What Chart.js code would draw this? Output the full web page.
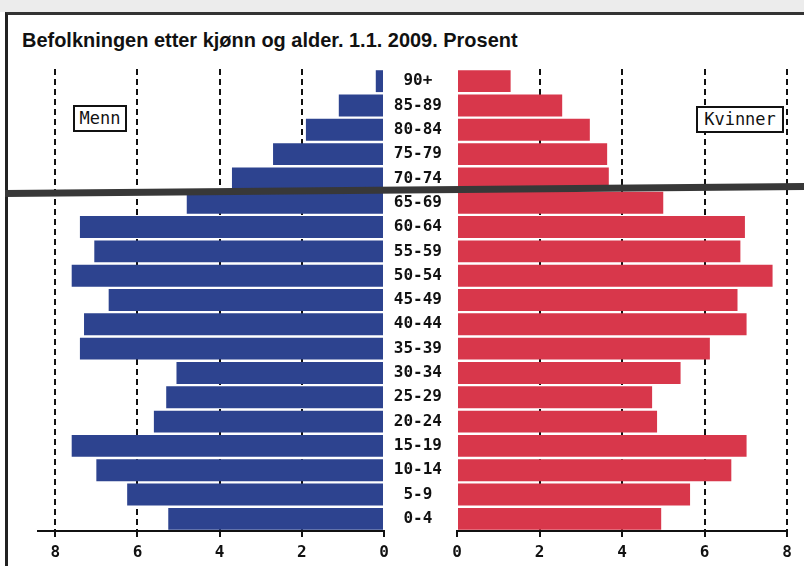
<!DOCTYPE html>
<html>
<head>
<meta charset="utf-8">
<script src="https://cdn.jsdelivr.net/npm/chart.js@4/dist/chart.umd.min.js"></script>
<style>
  html, body { margin: 0; padding: 0; background: #fff; }
  body { width: 804px; height: 566px; position: relative; overflow: hidden; }
  #topband { position: absolute; left: 0; top: 0; width: 804px; height: 12px; background: #ececec; }
  #frame { position: absolute; left: 5px; top: 12px; width: 799px; height: 554px;
           border-top: 3px solid #333; border-left: 3px solid #222; box-sizing: border-box; }
  #title { position: absolute; left: 22px; top: 28px; font-family: "Liberation Sans", Arial, sans-serif;
           font-weight: bold; font-size: 21px; line-height: 24px; color: #111; white-space: nowrap;
           transform: scaleX(0.95); transform-origin: 0 0; }
  .cv { position: absolute; top: 0; height: 566px; }
  #leftWrap { left: 0; width: 390px; }
  #rightWrap { left: 390px; width: 414px; }
  .legend { position: absolute; border: 2px solid #111; font-family: "DejaVu Sans Mono", monospace;
            font-size: 17px; color: #111; box-sizing: border-box; text-align: center; line-height: 22px; background: #fff; }
  #menn { left: 73px; top: 105px; width: 54px; height: 27px; }
  #kvinner { left: 696px; top: 106px; width: 88px; height: 27px; }
  #fold { position: absolute; left: 5px; top: 190px; width: 802px; height: 7px; background: #383838;
          transform: rotate(-0.5deg); transform-origin: 0 50%; }
</style>
</head>
<body>
<div id="topband"></div>
<div id="frame"></div>
<div id="title">Befolkningen etter kjønn og alder. 1.1. 2009. Prosent</div>
<div class="cv" id="leftWrap"><canvas id="cLeft" width="390" height="566"></canvas></div>
<div class="cv" id="rightWrap"><canvas id="cRight" width="414" height="566"></canvas></div>
<div class="legend" id="menn">Menn</div>
<div class="legend" id="kvinner">Kvinner</div>
<div id="fold"></div>
<script>
// Age groups, from youngest (bottom) to oldest (top)
const ageGroups = ['0-4','5-9','10-14','15-19','20-24','25-29','30-34','35-39','40-44','45-49',
                   '50-54','55-59','60-64','65-69','70-74','75-79','80-84','85-89','90+'];
// Percent of population, men
const menn = [5.25, 6.25, 7.0, 7.6, 5.6, 5.3, 5.05, 7.4, 7.3, 6.7,
              7.6, 7.05, 7.4, 4.8, 3.7, 2.7, 1.9, 1.1, 0.2];
// Percent of population, women
const kvinner = [4.95, 5.65, 6.65, 7.02, 4.85, 4.73, 5.42, 6.13, 7.02, 6.8,
                 7.65, 6.87, 6.98, 5.0, 3.68, 3.64, 3.22, 2.55, 1.3];
// Axis tick values
const tickValues = [0, 2, 4, 6, 8];

const BLUE = '#2d438f';
const RED = '#d8374b';
const tickFont = { family: '"DejaVu Sans Mono", monospace', size: 16, weight: 'bold' };

function xAxis(reverse, max) {
  return {
    type: 'linear', min: 0, max: max, reverse: reverse,
    afterBuildTicks: (axis) => { axis.ticks = tickValues.map(v => ({ value: v })); },
    afterFit: (scale) => { scale.height = 35; },
    border: { display: true, color: '#111', width: 2, dash: [6, 4] },
    grid: {
      drawOnChartArea: true, drawTicks: true, tickLength: 6,
      lineWidth: 2,
      color: (ctx) => (ctx.tick && ctx.tick.value === 0) ? 'rgba(0,0,0,0)' : '#111',
      tickColor: '#111', tickWidth: 2, tickBorderDash: []
    },
    ticks: { color: '#111', font: tickFont, padding: 6, maxRotation: 0 }
  };
}

Chart.defaults.animation = false;

new Chart(document.getElementById('cLeft'), {
  type: 'bar',
  data: {
    labels: ageGroups,
    datasets: [{ label: 'Menn', data: menn, backgroundColor: BLUE, borderWidth: 0,
                 categoryPercentage: 0.9, barPercentage: 1.0 }]
  },
  options: {
    indexAxis: 'y', responsive: false, maintainAspectRatio: false,
    layout: { padding: { left: 38, right: 6, top: 69, bottom: 0 } },
    plugins: { legend: { display: false }, tooltip: { enabled: false } },
    scales: {
      x: xAxis(true, 8.42),
      y: { reverse: true, display: false, grid: { display: false } }
    }
  }
});

new Chart(document.getElementById('cRight'), {
  type: 'bar',
  data: {
    labels: ageGroups,
    datasets: [{ label: 'Kvinner', data: kvinner, backgroundColor: RED, borderWidth: 0,
                 categoryPercentage: 0.9, barPercentage: 1.0 }]
  },
  options: {
    indexAxis: 'y', responsive: false, maintainAspectRatio: false,
    layout: { padding: { left: 0, right: 17, top: 69, bottom: 0 } },
    plugins: { legend: { display: false }, tooltip: { enabled: false } },
    scales: {
      x: xAxis(false, 8),
      y: {
        reverse: true,
        afterFit: (scale) => { scale.width = 67; },
        border: { display: false },
        grid: { display: false, drawTicks: false },
        ticks: { color: '#111', font: tickFont, crossAlign: 'center', padding: 15 }
      }
    }
  }
});
</script>
</body>
</html>
